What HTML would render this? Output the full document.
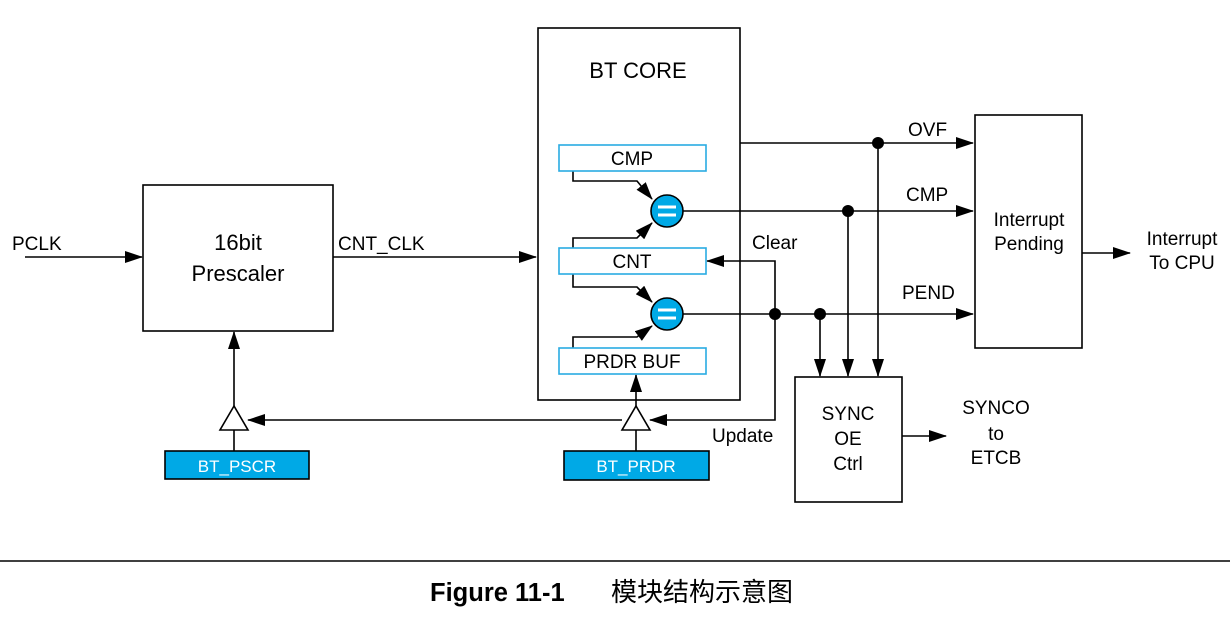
<!DOCTYPE html>
<html><head><meta charset="utf-8"><style>
body{margin:0;background:#fff;}
svg{display:block;font-family:"Liberation Sans",Arial,sans-serif;}
</style></head><body>
<svg width="1230" height="618" viewBox="0 0 1230 618" xmlns="http://www.w3.org/2000/svg">
<defs>
<marker id="b" markerWidth="18" markerHeight="12" refX="17" refY="6" orient="auto" markerUnits="userSpaceOnUse"><path d="M0,0 L18,6 L0,12 Z" fill="#000"/></marker>
</defs>
<g stroke="#000" stroke-width="1.6" fill="none">
<line x1="25" y1="257" x2="142" y2="257" marker-end="url(#b)"/>
<rect x="143" y="185" width="190" height="146" fill="#fff"/>
<line x1="333" y1="257" x2="536" y2="257" marker-end="url(#b)"/>
<rect x="538" y="28" width="202" height="372"/>
<rect x="975" y="115" width="107" height="233"/>
<rect x="795" y="377" width="107" height="125"/>
<polyline points="573,171 573,181 637,181 652,199" marker-end="url(#b)"/>
<polyline points="573,248 573,238 637,238 652,223" marker-end="url(#b)"/>
<polyline points="573,274 573,287 637,287 652,302" marker-end="url(#b)"/>
<polyline points="573,348 573,337 637,337 652,326" marker-end="url(#b)"/>
<line x1="740" y1="143" x2="973" y2="143" marker-end="url(#b)"/>
<line x1="683" y1="211" x2="973" y2="211" marker-end="url(#b)"/>
<line x1="683" y1="314" x2="973" y2="314" marker-end="url(#b)"/>
<line x1="1082" y1="253" x2="1130" y2="253" marker-end="url(#b)"/>
<polyline points="775,314 775,261 707,261" marker-end="url(#b)"/>
<polyline points="775,314 775,420 650,420" marker-end="url(#b)"/>
<line x1="622" y1="420" x2="248" y2="420" marker-end="url(#b)"/>
<line x1="820" y1="314" x2="820" y2="376" marker-end="url(#b)"/>
<line x1="848" y1="211" x2="848" y2="376" marker-end="url(#b)"/>
<line x1="878" y1="143" x2="878" y2="376" marker-end="url(#b)"/>
<line x1="902" y1="436" x2="946" y2="436" marker-end="url(#b)"/>
<line x1="234" y1="406" x2="234" y2="332" marker-end="url(#b)"/>
<line x1="636" y1="406" x2="636" y2="375" marker-end="url(#b)"/>
<line x1="234" y1="430" x2="234" y2="451"/>
<line x1="636" y1="430" x2="636" y2="451"/>
<polygon points="234,406 220,430 248,430" fill="#fff"/>
<polygon points="636,406 622,430 650,430" fill="#fff"/>
<rect x="165" y="451" width="144" height="28" fill="#00a9e6"/>
<rect x="564" y="451" width="145" height="29" fill="#00a9e6"/>
</g>
<g stroke="#29abe2" stroke-width="1.6" fill="#fff">
<rect x="559" y="145" width="147" height="26"/>
<rect x="559" y="248" width="147" height="26"/>
<rect x="559" y="348" width="147" height="26"/>
</g>
<g fill="#00a9e6" stroke="#000" stroke-width="1.6">
<circle cx="667" cy="211" r="16"/><circle cx="667" cy="314" r="16"/>
</g>
<g stroke="#fff" stroke-width="3">
<line x1="658" y1="207" x2="676" y2="207"/><line x1="658" y1="215" x2="676" y2="215"/>
<line x1="658" y1="310" x2="676" y2="310"/><line x1="658" y1="318" x2="676" y2="318"/>
</g>
<g fill="#000">
<circle cx="878" cy="143" r="6"/><circle cx="848" cy="211" r="6"/>
<circle cx="775" cy="314" r="6"/><circle cx="820" cy="314" r="6"/>
</g>
<g font-size="19" fill="#000">
<text x="12" y="250">PCLK</text>
<text x="338" y="250">CNT_CLK</text>
<text x="752" y="249">Clear</text>
<text x="712" y="442">Update</text>
<text x="908" y="136">OVF</text>
<text x="906" y="201">CMP</text>
<text x="902" y="299">PEND</text>
<g text-anchor="middle">
<text x="238" y="250" font-size="22">16bit</text>
<text x="238" y="281" font-size="22">Prescaler</text>
<text x="638" y="78" font-size="22">BT CORE</text>
<text x="632" y="165">CMP</text>
<text x="632" y="268">CNT</text>
<text x="632" y="368">PRDR BUF</text>
<text x="1029" y="226">Interrupt</text>
<text x="1029" y="250">Pending</text>
<text x="1182" y="245">Interrupt</text>
<text x="1182" y="269">To CPU</text>
<text x="848" y="420">SYNC</text>
<text x="848" y="445">OE</text>
<text x="848" y="470">Ctrl</text>
<text x="996" y="414">SYNCO</text>
<text x="996" y="440">to</text>
<text x="996" y="464">ETCB</text>
<text x="237" y="472" fill="#fff" font-size="17">BT_PSCR</text>
<text x="636" y="472" fill="#fff" font-size="17">BT_PRDR</text>
</g>
</g>
<line x1="0" y1="561" x2="1230" y2="561" stroke="#000" stroke-width="1.5"/>
<text x="430" y="601" font-size="25.5" font-weight="bold">Figure 11-1</text>
<text x="611" y="601" font-size="26" font-family="'Liberation Sans','Noto Sans CJK SC',sans-serif">模块结构示意图</text>
</svg>
</body></html>
